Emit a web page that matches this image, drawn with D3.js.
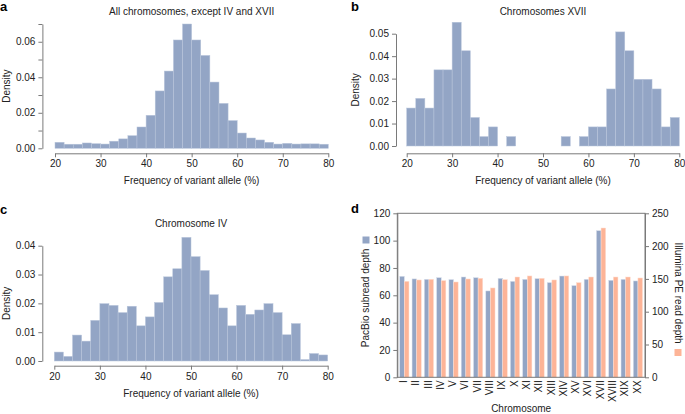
<!DOCTYPE html>
<html>
<head>
<meta charset="utf-8">
<script src="https://cdn.jsdelivr.net/npm/d3@7"></script>
<style>
  html, body { margin: 0; padding: 0; background: #fff; }
  svg { display: block; font-family: "Liberation Sans", Arial, Helvetica, sans-serif; }
</style>
</head>
<body>
<svg id="chart" width="685" height="414"></svg>
<script>
// ---------------- DATA ----------------
const binStarts = [20,22,24,26,28,30,32,34,36,38,40,42,44,46,48,50,52,54,56,58,60,62,64,66,68,70,72,74,76,78];
const binWidth = 2;

const densityAll = [0.0034,0.0023,0.0023,0.0030,0.0026,0.0024,0.0040,0.0053,0.0071,0.0120,
                    0.0186,0.0323,0.0435,0.0610,0.0700,0.0610,0.0523,0.0373,0.0253,0.0156,
                    0.0086,0.0058,0.0047,0.0034,0.0024,0.0028,0.0024,0.0025,0.0025,0.0023];

const densityXVII = [0.0169,0.0212,0.0169,0.0339,0.0339,0.0551,0.0424,0.0127,0.0042,0.0085,
                     0,0.0042,0,0,0,0,0,0.0042,0,0.0042,
                     0.0085,0.0085,0.0254,0.0508,0.0424,0.0297,0.0297,0.0254,0.0085,0.0127];

const densityIV = [0.0031,0.0016,0.0090,0.0069,0.0141,0.0199,0.0193,0.0168,0.0190,0.0122,
                   0.0153,0.0203,0.0292,0.0320,0.0429,0.0362,0.0314,0.0230,0.0184,0.0122,
                   0.0193,0.0162,0.0177,0.0199,0.0168,0.0091,0.0130,0.0005,0.0026,0.0021];

const chromosomes = ["I","II","III","IV","V","VI","VII","VIII","IX","X",
                     "XI","XII","XIII","XIV","XV","XVI","XVII","XVIII","XIX","XX"];
const pacbioDepth = [73.9,72.0,71.7,72.9,71.5,73.4,72.9,63.2,72.4,70.2,
                     71.7,72.2,69.3,74.1,67.1,71.7,107.3,71.0,71.7,70.5];
const illuminaDepth = [146.3,148.4,149.4,147.4,145.3,149.9,150.9,136.2,148.9,152.9,
                       154.5,150.9,148.4,154.5,144.3,152.9,227.6,152.9,152.9,151.4];

const xTicksHist = [20,30,40,50,60,70,80];
const yTicksA = [0,0.01,0.02,0.03,0.04,0.05,0.06,0.07];
const yLabelsA = [0,0.02,0.04,0.06];
const yTicksB = [0,0.01,0.02,0.03,0.04,0.05];
const yTicksC = [0,0.01,0.02,0.03,0.04];
const yTicksDLeft = [0,20,40,60,80,100,120];
const yTicksDRight = [0,50,100,150,200,250];

// ---------------- STYLE ----------------
const BLUE = "#93a5c5";
const PINK = "#fdb497";
const BAR_STROKE = "#b9c6db";
const AXIS = "#7a7a7a";
const TEXT = "#222";
const FS = 10;

const svg = d3.select("#chart");

function styleAxis(g) {
  g.selectAll(".domain").attr("stroke", AXIS).attr("stroke-width", 1);
  g.selectAll(".tick line").attr("stroke", AXIS).attr("stroke-width", 1);
  g.selectAll(".tick text").attr("fill", TEXT).attr("font-size", FS)
    .attr("font-family", "'Liberation Sans', Arial, sans-serif");
}

function histogram(opts) {
  const { values, xRange, yDomain, yRange, yAxisX, xAxisY, yTicks, yLabels, title, titleY, letter, letterX, letterY, densityX } = opts;
  const x = d3.scaleLinear().domain([20, 80]).range(xRange);
  const y = d3.scaleLinear().domain(yDomain).range(yRange);
  const g = svg.append("g");

  g.selectAll("rect.bar").data(values).join("rect")
    .attr("class", "bar")
    .attr("x", (d, i) => x(binStarts[i]))
    .attr("width", (d, i) => x(binStarts[i] + binWidth) - x(binStarts[i]))
    .attr("y", d => y(d))
    .attr("height", d => y(0) - y(d))
    .attr("fill", BLUE)
    .attr("stroke", BAR_STROKE)
    .attr("stroke-width", 0.5);

  // x axis (offset below the bars)
  const gx = g.append("g").attr("transform", `translate(0,${xAxisY})`)
    .call(d3.axisBottom(x).tickValues(xTicksHist).tickSize(4).tickPadding(3).tickSizeOuter(0).tickFormat(d3.format("d")));
  styleAxis(gx);

  // y axis (offset to the left)
  const gy = g.append("g").attr("transform", `translate(${yAxisX},0)`)
    .call(d3.axisLeft(y).tickValues(yTicks).tickSize(4).tickPadding(3).tickSizeOuter(0)
      .tickFormat(d => (yLabels.some(v => Math.abs(v - d) < 1e-9) ? d3.format(".2f")(d) : "")));
  styleAxis(gy);

  // titles
  g.append("text").attr("x", (xRange[0] + xRange[1]) / 2).attr("y", titleY)
    .attr("text-anchor", "middle").attr("dominant-baseline", "middle")
    .attr("font-size", FS).attr("fill", TEXT).text(title);
  g.append("text").attr("x", (xRange[0] + xRange[1]) / 2).attr("y", xAxisY + 28.5)
    .attr("text-anchor", "middle").attr("dominant-baseline", "middle")
    .attr("font-size", FS).attr("fill", TEXT).text("Frequency of variant allele (%)");
  g.append("text")
    .attr("transform", `translate(${densityX},${(yRange[0] + yRange[1]) / 2}) rotate(-90)`)
    .attr("text-anchor", "middle").attr("dominant-baseline", "middle")
    .attr("font-size", FS).attr("fill", TEXT).text("Density");
  svg.append("text").attr("x", letterX).attr("y", letterY)
    .attr("font-size", 13).attr("font-weight", "bold").attr("fill", "#000").text(letter);
}

histogram({
  values: densityAll, xRange: [55, 328.3], yDomain: [0, 0.07], yRange: [148.3, 24],
  yAxisX: 42.4, xAxisY: 153.3, yTicks: yTicksA, yLabels: yLabelsA,
  title: "All chromosomes, except IV and XVII", titleY: 12,
  letter: "a", letterX: 0, letterY: 11, densityX: 7
});

histogram({
  values: densityXVII, xRange: [406.7, 679.3], yDomain: [0, 0.05], yRange: [146, 33.7],
  yAxisX: 396, xAxisY: 153.3, yTicks: yTicksB, yLabels: yTicksB,
  title: "Chromosomes XVII", titleY: 12,
  letter: "b", letterX: 351, letterY: 11, densityX: 356
});

histogram({
  values: densityIV, xRange: [54.3, 327.7], yDomain: [0, 0.04], yRange: [361, 245.7],
  yAxisX: 42.3, xAxisY: 365.7, yTicks: yTicksC, yLabels: yTicksC,
  title: "Chromosome IV", titleY: 224.3,
  letter: "c", letterX: 0, letterY: 214, densityX: 7
});

// ---------------- PANEL D ----------------
(function () {
  const left = 397.3, right = 645, top = 213.3, bottom = 377.3;
  const x0 = d3.scaleBand().domain(chromosomes).range([left, right]).paddingInner(0.25).paddingOuter(0.2);
  const x1 = d3.scaleBand().domain(["pacbio", "illumina"]).range([0, x0.bandwidth()]);
  const yL = d3.scaleLinear().domain([0, 120]).range([bottom, top]);
  const yR = d3.scaleLinear().domain([0, 250]).range([bottom, top]);
  const g = svg.append("g");

  const groups = g.selectAll("g.grp").data(chromosomes).join("g")
    .attr("class", "grp").attr("transform", d => `translate(${x0(d)},0)`);

  groups.append("rect")
    .attr("x", x1("pacbio")).attr("width", x1.bandwidth())
    .attr("y", (d, i) => yL(pacbioDepth[i]))
    .attr("height", (d, i) => yL(0) - yL(pacbioDepth[i]))
    .attr("fill", BLUE).attr("stroke", "#d9e0ec").attr("stroke-width", 0.5);
  groups.append("rect")
    .attr("x", x1("illumina")).attr("width", x1.bandwidth())
    .attr("y", (d, i) => yR(illuminaDepth[i]))
    .attr("height", (d, i) => yR(0) - yR(illuminaDepth[i]))
    .attr("fill", PINK).attr("stroke", "#fde0d4").attr("stroke-width", 0.5);

  // frame
  g.append("rect").attr("x", left).attr("y", top).attr("width", right - left).attr("height", bottom - top)
    .attr("fill", "none").attr("stroke", AXIS).attr("stroke-width", 1);

  const gl = g.append("g").attr("transform", `translate(${left},0)`)
    .call(d3.axisLeft(yL).tickValues(yTicksDLeft).tickSize(4).tickPadding(3).tickSizeOuter(0));
  styleAxis(gl);
  const gr = g.append("g").attr("transform", `translate(${right},0)`)
    .call(d3.axisRight(yR).tickValues(yTicksDRight).tickSize(4).tickPadding(3).tickSizeOuter(0));
  styleAxis(gr);

  // category labels rotated
  g.selectAll("text.cat").data(chromosomes).join("text")
    .attr("class", "cat")
    .attr("transform", d => `translate(${x0(d) + x0.bandwidth() / 2},${bottom + 3}) rotate(-90)`)
    .attr("text-anchor", "end").attr("dominant-baseline", "middle")
    .attr("font-size", FS).attr("fill", TEXT).text(d => d);

  g.append("text").attr("x", (left + right) / 2).attr("y", 409.5)
    .attr("text-anchor", "middle").attr("dominant-baseline", "middle")
    .attr("font-size", FS).attr("fill", TEXT).text("Chromosome");

  // left title with legend square (text reads upward, square above)
  g.append("text").attr("transform", `translate(366,298) rotate(-90)`)
    .attr("text-anchor", "middle").attr("dominant-baseline", "middle")
    .attr("font-size", FS).attr("fill", TEXT).text("PacBio subread depth");
  g.append("rect").attr("x", 362.5).attr("y", 236.5).attr("width", 7).attr("height", 7).attr("fill", BLUE);

  // right title with legend square (text reads downward, square below)
  g.append("text").attr("transform", `translate(678,293) rotate(90)`)
    .attr("text-anchor", "middle").attr("dominant-baseline", "middle")
    .attr("font-size", FS).attr("fill", TEXT).text("Illumina PE read depth");
  g.append("rect").attr("x", 674.5).attr("y", 349).attr("width", 7).attr("height", 7).attr("fill", PINK);

  svg.append("text").attr("x", 351).attr("y", 213)
    .attr("font-size", 13).attr("font-weight", "bold").attr("fill", "#000").text("d");
})();
</script>
</body>
</html>
